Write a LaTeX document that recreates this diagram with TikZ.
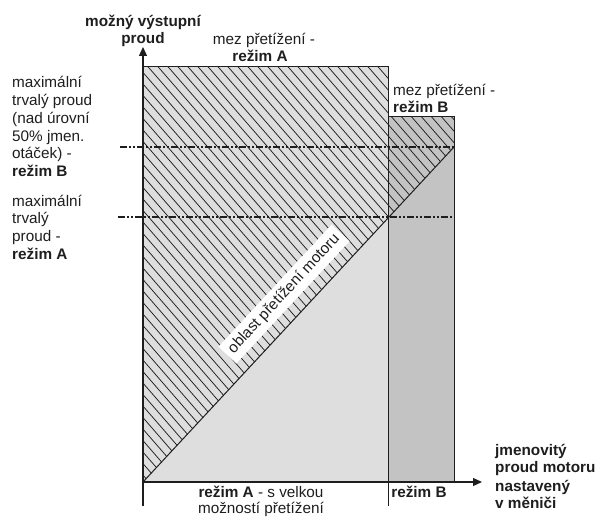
\documentclass[tikz,border=0pt]{standalone}
\usepackage{fontspec}
\setmainfont{Liberation Sans}
\usetikzlibrary{arrows.meta}
\definecolor{fillA}{HTML}{DEDEDE}
\definecolor{fillB}{HTML}{C3C3C3}
\definecolor{ink}{HTML}{1E1E1E}

\begin{document}
\begin{tikzpicture}[x=1pt,y=-1pt,
  lbl/.style={inner sep=0pt, font=\fontsize{15.3}{17.7}\selectfont, text=ink},
  lblw/.style={lbl, anchor=base west},
  lblc/.style={lbl, anchor=base},
  hatchline/.style={line width=0.75pt, ink},
  outline/.style={line width=1pt, ink},
  limit/.style={line width=1.4pt, ink, dash pattern=on 7pt off 2pt on 2pt off 2pt on 2pt off 2pt},
  axis/.style={line width=1.3pt, ink, -{Triangle[length=9pt,width=8pt]}},
  tick/.style={line width=1pt, ink},
]
\useasboundingbox (0,0) rectangle (600,518);

% key points (x to the right, y downward)
\coordinate (O)   at (143,482);
\coordinate (Ytop) at (143,47);
\coordinate (Ybot) at (143,506);
\coordinate (Xend) at (482,482);
\coordinate (Atl) at (143,67);
\coordinate (Atr) at (388,67);
\coordinate (Abr) at (388,482);
\coordinate (Btl) at (388,117);
\coordinate (Btr) at (454,117);
\coordinate (Bbr) at (454,482);
\coordinate (Dend) at (454,147);
\coordinate (Dmid) at (388,218);
\coordinate (Btick) at (388,506);
\coordinate (L1s) at (120,147);
\coordinate (L1e) at (454,147);
\coordinate (L2s) at (118,217);
\coordinate (L2e) at (454,217);

% mode regions
\fill[fillA] (Atl) rectangle (Abr);
\fill[fillB] (Btl) rectangle (Bbr);

% overload zone above the diagonal
\begin{scope}
  \clip (Atl) -- (Atr) -- (Btl) -- (Btr) -- (Dend) -- (O) -- cycle;
  \foreach \c in {-290,-280,...,410}
    \draw[hatchline] (\c,0) -- ++(452,520);
\end{scope}

% outlines
\draw[outline] (Atl) rectangle (Abr);
\draw[outline] (Btl) rectangle (Bbr);
\draw[outline] (O) -- (Dend);

% continuous current limits
\draw[limit] (L1s) -- (L1e);
\draw[limit] (L2s) -- (L2e);

% axes
\draw[axis] (Ybot) -- (Ytop);
\draw[axis] (O) -- (Xend);
\draw[tick] (Abr) -- (Btick);

% zone label
\node[lbl, fill=white, inner sep=5pt, rotate=47.2] (zone) at (284,294) {oblast přetížení motoru};

% axis titles
\node[lblc, font=\fontsize{15.3}{17.7}\selectfont\bfseries] (yt1) at (143,27) {možný výstupní};
\node[lblc, font=\fontsize{15.3}{17.7}\selectfont\bfseries] (yt2) at (143,44) {proud};

\node[lblw, font=\fontsize{15.3}{17.7}\selectfont\bfseries] (xt1) at (495,456) {jmenovitý};
\node[lblw, font=\fontsize{15.3}{17.7}\selectfont\bfseries] (xt2) at (495,473) {proud motoru};
\node[lblw, font=\fontsize{15.3}{17.7}\selectfont\bfseries] (xt3) at (495,491) {nastavený};
\node[lblw, font=\fontsize{15.3}{17.7}\selectfont\bfseries] (xt4) at (495,508) {v měniči};

% overload limits
\node[lblc] (ma1) at (264,45) {mez přetížení -};
\node[lblc, font=\fontsize{15.3}{17.7}\selectfont\bfseries] (ma2) at (260,62) {režim A};
\node[lblw] (mb1) at (393,96) {mez přetížení -};
\node[lblw, font=\fontsize{15.3}{17.7}\selectfont\bfseries] (mb2) at (393,113) {režim B};

% continuous current labels
\node[lblw] (cb1) at (12,88) {maximální};
\node[lblw] (cb2) at (12,106) {trvalý proud};
\node[lblw] (cb3) at (12,124) {(nad úrovní};
\node[lblw] (cb4) at (12,142) {50\% jmen.};
\node[lblw] (cb5) at (12,159) {otáček) -};
\node[lblw, font=\fontsize{15.3}{17.7}\selectfont\bfseries] (cb6) at (12,177) {režim B};

\node[lblw] (ca1) at (12,207) {maximální};
\node[lblw] (ca2) at (12,224) {trvalý};
\node[lblw] (ca3) at (12,242) {proud -};
\node[lblw, font=\fontsize{15.3}{17.7}\selectfont\bfseries] (ca4) at (12,260) {režim A};

% mode ranges on the current axis
\node[lblc] (ra1) at (261,497) {\textbf{režim A} - s velkou};
\node[lblc] (ra2) at (261,514) {možností přetížení};
\node[lblc, font=\fontsize{15.3}{17.7}\selectfont\bfseries] (rb) at (419,497) {režim B};
\end{tikzpicture}
\end{document}
